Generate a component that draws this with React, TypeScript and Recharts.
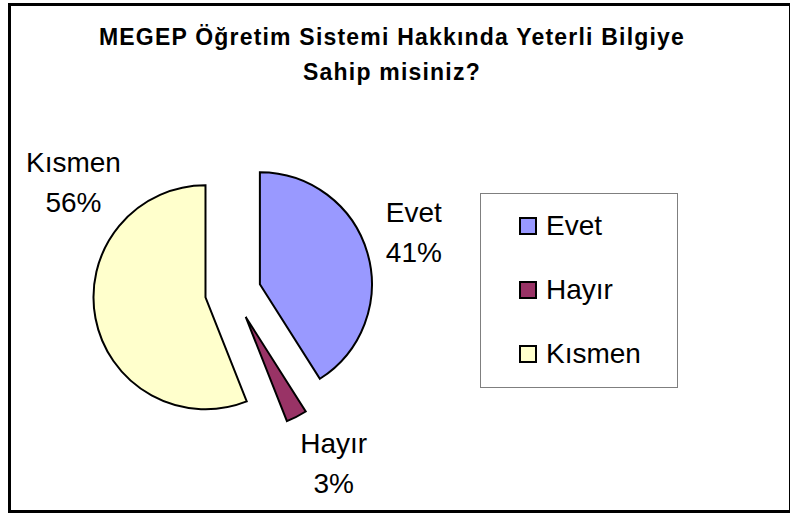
import { PieChart, Pie, Cell } from "recharts";

// --- data -------------------------------------------------------------------
const CATEGORIES = ["Evet", "Hayır", "Kısmen"];
const VALUES = [41, 3, 56];
const COLORS = ["#9999FF", "#993366", "#FFFFCC"];
const TITLE_LINES = [
  "MEGEP Öğretim Sistemi Hakkında Yeterli Bilgiye",
  "Sahip misiniz?",
];

// --- layout -----------------------------------------------------------------
const W = 790;
const H = 514;
const PIE_CX = 233;
const PIE_CY = 292;
const RADIUS = 112;
const EXPLODE = 28;
// where each data label sits (first baseline), relative to its slice centre
const LABEL_OFFSET: [number, number][] = [
  [154, -62],
  [88, 136],
  [-132, -125],
];
const FONT = "'Liberation Sans', Arial, sans-serif";
const LABEL_SIZE = 28;

const rows = CATEGORIES.map((name, i) => ({ name, value: VALUES[i] }));
const total = VALUES.reduce((a, b) => a + b, 0);

// centre of each exploded slice, pushed out along its mid angle
function sliceCentre(i: number): [number, number] {
  const before = VALUES.slice(0, i).reduce((a, b) => a + b, 0);
  const theta = ((before + VALUES[i] / 2) / total) * Math.PI * 2;
  return [PIE_CX + Math.sin(theta) * EXPLODE, PIE_CY - Math.cos(theta) * EXPLODE];
}

function makeLabel(target: number, centre: [number, number]) {
  return (props: any) => {
    if (props.index !== target) return null;
    const x = centre[0] + LABEL_OFFSET[target][0];
    const y = centre[1] + LABEL_OFFSET[target][1];
    const pct = Math.round((VALUES[target] / total) * 100);
    return (
      <text
        key={`lbl-${target}`}
        x={x}
        y={y}
        textAnchor="middle"
        fontFamily={FONT}
        fontSize={LABEL_SIZE}
        fill="#000"
      >
        <tspan x={x} y={y}>
          {CATEGORIES[target]}
        </tspan>
        <tspan x={x} y={y + 40}>
          {pct}%
        </tspan>
      </text>
    );
  };
}

function LegendBox() {
  return (
    <div
      style={{
        position: "absolute",
        left: 480,
        top: 193,
        width: 198,
        height: 195,
        border: "1px solid #7f7f7f",
        boxSizing: "border-box",
        background: "#fff",
      }}
    >
      {CATEGORIES.map((name, i) => (
        <div
          key={name}
          style={{
            position: "absolute",
            left: 38,
            top: 32 - 16 + i * 64,
            height: 32,
            display: "flex",
            alignItems: "center",
          }}
        >
          <span
            style={{
              width: 18,
              height: 18,
              boxSizing: "border-box",
              border: "2px solid #000",
              background: COLORS[i],
              marginRight: 9,
            }}
          />
          <span style={{ fontFamily: FONT, fontSize: LABEL_SIZE, lineHeight: 1, color: "#000" }}>
            {name}
          </span>
        </div>
      ))}
    </div>
  );
}

export default function App() {
  return (
    <div style={{ position: "absolute", left: 0, top: 0, width: W, height: H, overflow: "hidden", background: "#fff" }}>
      <style>{`body{margin:0;overflow:hidden;}`}</style>
      <div
        style={{
          position: "absolute",
          left: 8,
          top: 3,
          width: 784,
          height: 510,
          border: "3px solid #000",
          boxSizing: "border-box",
        }}
      />
      <div
        style={{
          position: "absolute",
          left: 0,
          top: 20,
          width: 784,
          textAlign: "center",
          fontFamily: FONT,
          fontWeight: "bold",
          fontSize: 23,
          lineHeight: "35px",
          letterSpacing: 1.2,
          color: "#000",
        }}
      >
        {TITLE_LINES.map((t) => (
          <div key={t}>{t}</div>
        ))}
      </div>
      <div style={{ position: "absolute", left: 0, top: 0 }}>
        <PieChart width={W} height={H} margin={{ top: 0, right: 0, bottom: 0, left: 0 }}>
          {CATEGORIES.map((name, target) => {
            const c = sliceCentre(target);
            return (
              <Pie
                key={name}
                data={rows}
                dataKey="value"
                nameKey="name"
                cx={c[0]}
                cy={c[1]}
                outerRadius={RADIUS}
                startAngle={90}
                endAngle={-270}
                isAnimationActive={false}
                labelLine={false}
                label={makeLabel(target, c)}
              >
                {rows.map((r, i) => (
                  <Cell
                    key={r.name}
                    fill={i === target ? COLORS[i] : "none"}
                    stroke={i === target ? "#000" : "none"}
                    strokeWidth={2}
                  />
                ))}
              </Pie>
            );
          })}
        </PieChart>
      </div>
      <LegendBox />
    </div>
  );
}
